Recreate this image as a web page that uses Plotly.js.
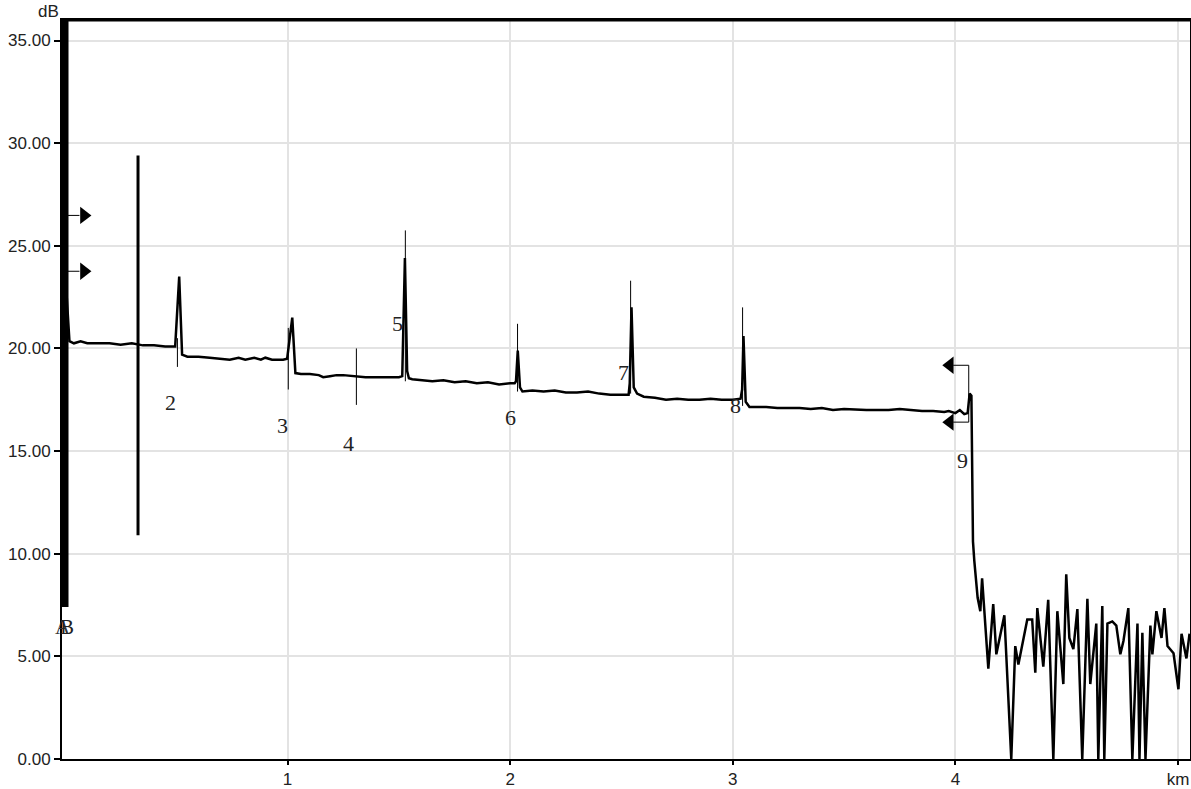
<!DOCTYPE html>
<html>
<head>
<meta charset="utf-8">
<script src="https://cdn.plot.ly/plotly-3.0.1.min.js"></script>
<style>html,body{margin:0;padding:0;background:#fff;}#chart{width:1191px;height:789px;}</style>
</head>
<body>
<div id="chart"></div>
<script>
// OTDR trace: distance (km) and level (dB)
const distKm = [
  0.005, 0.02, 0.04, 0.07, 0.10, 0.15, 0.20, 0.25, 0.30, 0.35, 0.40, 0.45, 0.495,
  0.513, 0.526, 0.55, 0.60, 0.65, 0.70, 0.74, 0.78, 0.81, 0.85, 0.88, 0.90, 0.93, 0.98, 0.998,
  1.021, 1.035, 1.06, 1.10, 1.14, 1.16, 1.19, 1.22, 1.25, 1.30, 1.35, 1.40, 1.45, 1.50, 1.515,
  1.527, 1.537, 1.545, 1.56, 1.60, 1.65, 1.70, 1.75, 1.80, 1.85, 1.90, 1.95, 2.00, 2.02, 2.026,
  2.034, 2.044, 2.055, 2.10, 2.15, 2.20, 2.25, 2.30, 2.35, 2.40, 2.45, 2.50, 2.532, 2.537,
  2.545, 2.555, 2.57, 2.60, 2.65, 2.70, 2.75, 2.80, 2.85, 2.90, 2.95, 3.00, 3.035, 3.042,
  3.048, 3.058, 3.075, 3.10, 3.15, 3.20, 3.30, 3.35, 3.40, 3.45, 3.50, 3.60, 3.70, 3.75, 3.80,
  3.85, 3.90, 3.95, 3.97, 4.00, 4.02, 4.04, 4.055, 4.064, 4.072, 4.079, 4.085, 4.100,
  4.112, 4.120, 4.148, 4.170, 4.184, 4.220, 4.251, 4.269, 4.283, 4.323, 4.345, 4.359, 4.368,
  4.395, 4.417, 4.440, 4.458, 4.485, 4.498, 4.512, 4.530, 4.548, 4.570, 4.593, 4.606, 4.633,
  4.642, 4.660, 4.669, 4.683, 4.705, 4.723, 4.741, 4.755, 4.777, 4.795, 4.818, 4.827, 4.840,
  4.854, 4.876, 4.885, 4.903, 4.926, 4.939, 4.953, 4.980, 5.002, 5.016, 5.038, 5.052
];
const lossDb = [
  23.0, 20.35, 20.25, 20.35, 20.25, 20.25, 20.25, 20.18, 20.25, 20.15, 20.15, 20.1, 20.1,
  23.5, 19.7, 19.6, 19.6, 19.55, 19.5, 19.45, 19.55, 19.45, 19.55, 19.45, 19.55, 19.45, 19.45, 19.5,
  21.5, 18.8, 18.75, 18.75, 18.7, 18.6, 18.65, 18.7, 18.7, 18.65, 18.6, 18.6, 18.6, 18.6, 18.65,
  24.4, 18.9, 18.55, 18.5, 18.45, 18.4, 18.45, 18.35, 18.4, 18.3, 18.35, 18.25, 18.3, 18.3, 18.4,
  19.9, 18.1, 17.9, 17.95, 17.9, 17.95, 17.85, 17.85, 17.9, 17.8, 17.75, 17.75, 17.75, 18.3,
  22.0, 18.1, 17.8, 17.65, 17.6, 17.5, 17.55, 17.5, 17.5, 17.55, 17.5, 17.5, 17.55, 18.0,
  20.6, 17.4, 17.15, 17.15, 17.15, 17.1, 17.1, 17.05, 17.1, 17.0, 17.05, 17.0, 17.0, 17.05, 17.0,
  16.95, 16.95, 16.9, 16.95, 16.85, 17.0, 16.8, 16.85, 17.8, 17.7, 10.6, 9.65, 7.85,
  7.2, 8.8, 4.4, 7.55, 5.1, 7.0, 0, 5.5, 4.6, 6.8, 6.8, 4.2, 7.35,
  4.5, 7.75, 0, 7.2, 3.65, 9.0, 5.9, 5.35, 7.3, 0, 7.8, 3.65, 6.6,
  0, 7.45, 0, 6.6, 6.7, 6.5, 5.1, 5.75, 7.35, 0, 6.6, 0, 6.15,
  0, 6.5, 5.1, 7.2, 5.9, 7.35, 5.5, 5.15, 3.4, 6.1, 4.9, 6.1
];

// Cursors A/B (thick bar) and second cursor
const cursorKm = [0, 0.328];
const cursorLow = [7.4, 10.9];
const cursorHigh = [36, 29.4];
const cursorWidth = [7, 3];

// Event markers
const eventNames = ['2', '3', '4', '5', '6', '7', '8'];
const eventKm = [0.505, 1.003, 1.309, 1.529, 2.033, 2.541, 3.044];
const eventLow = [19.1, 18.0, 17.25, 18.4, 17.9, 17.8, 17.2];
const eventHigh = [20.5, 21.0, 20.0, 25.75, 21.2, 23.3, 22.0];
const labelKm = [0.472, 0.976, 1.273, 1.493, 2.002, 2.51, 3.014, 4.03];
const labelDb = [17.38, 16.26, 15.38, 21.23, 16.65, 18.84, 17.23, 14.56];
const labelText = ['2', '3', '4', '5', '6', '7', '8', '9'];

// Level markers (right arrows at start, left arrows at end with bracket)
const startArrowKm = 0.085;
const startArrowDb = [26.48, 23.76];
const endArrowKm = 3.99;
const endBracketKm = 4.06;
const endArrowDb = [19.18, 16.41];

// Axis ticks
const yTicks = [0, 5, 10, 15, 20, 25, 30, 35];
const xTicks = [1, 2, 3, 4, 5];
const xTickText = ['1', '2', '3', '4', 'km'];

const traces = [];

// cursors
for (let i = 0; i < cursorKm.length; i++) {
  traces.push({
    x: [cursorKm[i], cursorKm[i]], y: [cursorLow[i], cursorHigh[i]],
    mode: 'lines', line: {color: '#000', width: cursorWidth[i]}, hoverinfo: 'skip', cliponaxis: false
  });
}

// event tick lines
const evX = [], evY = [];
eventKm.forEach((k, i) => { evX.push(k, k, null); evY.push(eventLow[i], eventHigh[i], null); });
traces.push({x: evX, y: evY, mode: 'lines', line: {color: '#000', width: 1}, hoverinfo: 'skip'});

// main trace
traces.push({x: distKm, y: lossDb, mode: 'lines', line: {color: '#000', width: 2.5}, hoverinfo: 'skip'});

// start arrows
const saX = [], saY = [];
startArrowDb.forEach(d => { saX.push(0, startArrowKm - 0.02, null); saY.push(d, d, null); });
traces.push({x: saX, y: saY, mode: 'lines', line: {color: '#000', width: 1}, hoverinfo: 'skip'});
traces.push({x: startArrowDb.map(() => startArrowKm), y: startArrowDb, mode: 'markers',
  marker: {symbol: 'triangle-right', size: 15, color: '#000'}, hoverinfo: 'skip'});

// end bracket and arrows
traces.push({x: [endArrowKm, endBracketKm, endBracketKm, endArrowKm],
  y: [endArrowDb[0], endArrowDb[0], endArrowDb[1], endArrowDb[1]],
  mode: 'lines', line: {color: '#000', width: 1}, hoverinfo: 'skip'});
traces.push({x: endArrowDb.map(() => endArrowKm - 0.015), y: endArrowDb, mode: 'markers',
  marker: {symbol: 'triangle-left', size: 15, color: '#000'}, hoverinfo: 'skip'});

const annotations = labelText.map((t, i) => ({
  x: labelKm[i], y: labelDb[i], xref: 'x', yref: 'y', text: t, showarrow: false,
  font: {family: 'Liberation Serif', size: 22, color: '#222'}
}));
annotations.push({x: 0, y: 6.43, xref: 'x', yref: 'y', text: 'A', showarrow: false, xshift: -2,
  font: {family: 'Liberation Serif', size: 21, color: '#333'}});
annotations.push({x: 0, y: 6.43, xref: 'x', yref: 'y', text: 'B', showarrow: false, xshift: 2,
  font: {family: 'Liberation Serif', size: 21, color: '#222'}});
annotations.push({x: -0.012, y: 1.012, xref: 'paper', yref: 'paper', text: 'dB', showarrow: false,
  xanchor: 'center', yanchor: 'middle', font: {family: 'Liberation Sans', size: 17, color: '#222'}});

const layout = {
  width: 1191, height: 789,
  margin: {l: 62, r: 1, t: 20, b: 30, pad: 0},
  paper_bgcolor: '#fff', plot_bgcolor: '#fff',
  showlegend: false,
  font: {family: 'Liberation Sans', size: 17, color: '#222'},
  xaxis: {
    range: [-0.0135, 5.054], tickvals: xTicks, ticktext: xTickText,
    showgrid: true, gridcolor: '#e3e3e3', gridwidth: 2, zeroline: false,
    showline: true, linecolor: '#000', linewidth: 2, mirror: true,
    ticks: 'outside', ticklen: 4, tickwidth: 2, tickcolor: '#000',
    tickfont: {family: 'Liberation Sans', size: 17, color: '#222'}
  },
  yaxis: {
    range: [0, 36], tickvals: yTicks, tickformat: '.2f',
    showgrid: true, gridcolor: '#e3e3e3', gridwidth: 2, zeroline: false,
    showline: true, linecolor: '#000', linewidth: 2, mirror: true,
    ticks: 'outside', ticklen: 6, tickwidth: 2, tickcolor: '#000',
    tickfont: {family: 'Liberation Sans', size: 17, color: '#222'}
  },
  shapes: [
    {type: 'line', xref: 'paper', yref: 'paper', x0: 0, x1: 1, y0: 1, y1: 1, line: {color: '#000', width: 3}}
  ],
  annotations: annotations
};

Plotly.newPlot('chart', traces, layout, {staticPlot: true, displayModeBar: false});
</script>
</body>
</html>
